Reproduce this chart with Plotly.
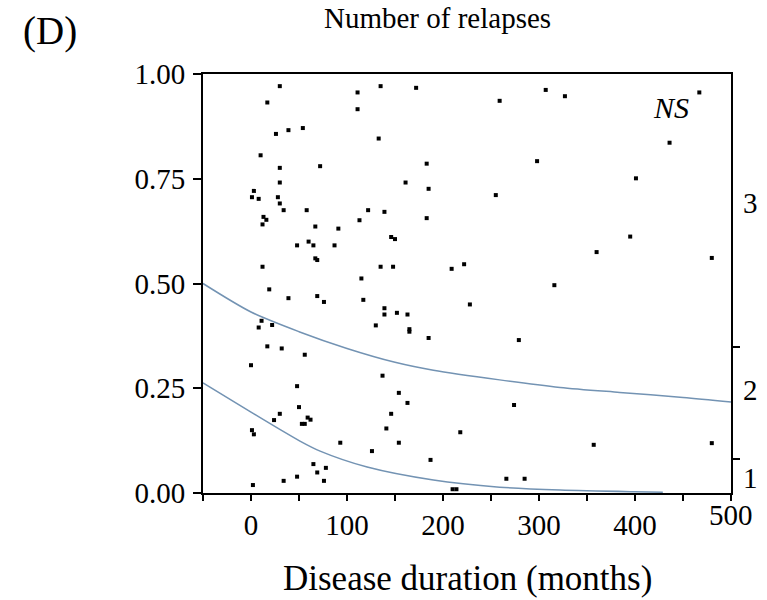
import plotly.graph_objects as go

# Individual patients: disease duration (months) vs. predicted cumulative probability
duration = [30, 17, 26, 39, 54, 10, 30, 30, 3, 1, 8, 28, 30, 34, 58, 13, 16, 12, 67, 48,
            60, 65, 67, 69, 12, 72, 135, 111, 172, 111, 133, 259, 183, 298, 161, 185, 255, 122, 139, 113,
            183, 91, 87, 146, 150, 135, 148, 209, 222, 115, 316, 69, 76, 117, 228, 139, 139, 152, 163, 130,
            165, 165, 185, 279, 56, 137, 154, 163, 274, 146, 141, 218, 50, 59, 62, 53, 56, 93, 154, 126,
            187, 65, 78, 69, 76, 266, 285, 210, 214, 19, 39, 11, 8, 22, 17, 32, 0, 48, 30, 24,
            1, 3, 2, 34, 48, 307, 327, 467, 436, 401, 395, 360, 480, 357, 480]
probability = [0.971, 0.932, 0.857, 0.866, 0.871, 0.806, 0.776, 0.741, 0.721, 0.706, 0.702, 0.706, 0.691, 0.675, 0.675, 0.659, 0.652, 0.641, 0.636, 0.591,
               0.600, 0.591, 0.560, 0.556, 0.540, 0.780, 0.971, 0.956, 0.967, 0.916, 0.846, 0.936, 0.786, 0.792, 0.741, 0.726, 0.711, 0.675, 0.671, 0.651,
               0.656, 0.631, 0.591, 0.611, 0.606, 0.540, 0.540, 0.535, 0.546, 0.512, 0.496, 0.470, 0.456, 0.461, 0.450, 0.441, 0.426, 0.430, 0.426, 0.400,
               0.391, 0.385, 0.370, 0.365, 0.330, 0.280, 0.239, 0.215, 0.210, 0.189, 0.154, 0.145, 0.205, 0.180, 0.175, 0.165, 0.165, 0.120, 0.120, 0.100,
               0.079, 0.069, 0.060, 0.049, 0.029, 0.034, 0.034, 0.009, 0.009, 0.486, 0.465, 0.411, 0.395, 0.401, 0.350, 0.345, 0.305, 0.255, 0.189, 0.174,
               0.150, 0.140, 0.019, 0.029, 0.039, 0.962, 0.947, 0.956, 0.836, 0.751, 0.612, 0.575, 0.561, 0.115, 0.119]

# Fitted cumulative-probability boundaries between relapse categories
upper_x = [-50, 0, 50, 100, 150, 190, 259, 322, 384, 450, 500]
upper_y = [0.500, 0.432, 0.385, 0.345, 0.312, 0.293, 0.270, 0.252, 0.240, 0.228, 0.217]
lower_x = [-50, 0, 30, 51, 72, 121, 190, 259, 322, 400, 429]
lower_y = [0.263, 0.193, 0.152, 0.124, 0.100, 0.062, 0.031, 0.014, 0.007, 0.003, 0.002]

# Axis ticks
x_tickvals = [-50, 0, 50, 100, 150, 200, 250, 300, 350, 400, 450, 500]
x_ticktext = ["", "0", "", "100", "", "200", "", "300", "", "400", "", ""]
y_tickvals = [0, 0.25, 0.5, 0.75, 1.0]
y_ticktext = ["0.00", "0.25", "0.50", "0.75", "1.00"]

# Right-hand category scale
category_bounds = [0.081, 0.348]
category_labels = ["1", "2", "3"]
category_pos = [0.036, 0.246, 0.692]

SERIF = "Liberation Serif, Times New Roman, serif"
CURVE = "#7393b3"

fig = go.Figure()
fig.add_trace(go.Scatter(x=upper_x, y=upper_y, mode="lines",
                         line=dict(color=CURVE, width=1.5, shape="spline", smoothing=0.8),
                         hoverinfo="skip"))
fig.add_trace(go.Scatter(x=lower_x, y=lower_y, mode="lines",
                         line=dict(color=CURVE, width=1.5, shape="spline", smoothing=0.8),
                         hoverinfo="skip"))
fig.add_trace(go.Scatter(x=duration, y=probability, mode="markers",
                         marker=dict(symbol="square", size=4, color="black",
                                     line=dict(width=0))))
# invisible trace to carry the right-hand axis
fig.add_trace(go.Scatter(x=[None], y=[None], yaxis="y2", showlegend=False))

axis_common = dict(showgrid=False, zeroline=False, showline=True, linecolor="black",
                   linewidth=2, ticks="outside", tickcolor="black", tickwidth=1.5)

fig.update_layout(
    width=767, height=600,
    margin=dict(l=203, r=36, t=74, b=107),
    paper_bgcolor="white", plot_bgcolor="white",
    showlegend=False,
    font=dict(family=SERIF, color="black", size=29),
    xaxis=dict(range=[-50, 500], tickmode="array", tickvals=x_tickvals, ticktext=x_ticktext,
               ticklen=6, mirror=True, ticklabelstandoff=-1, **axis_common),
    yaxis=dict(range=[0, 1], tickmode="array", tickvals=y_tickvals, ticktext=y_ticktext,
               ticklen=8, mirror=True, ticklabelstandoff=2, **axis_common),
    yaxis2=dict(range=[0, 1], overlaying="y", side="right", anchor="x",
                tickmode="array", tickvals=category_bounds, showticklabels=False,
                ticks="outside", ticklen=8, tickwidth=1.5, tickcolor="black",
                showgrid=False, zeroline=False, showline=False),
)

annotations = [
    dict(text="(D)", xref="paper", yref="paper", x=-0.289, y=1, yshift=43,
         xanchor="center", yanchor="middle", showarrow=False, font=dict(size=39)),
    dict(text="Number of relapses", xref="paper", yref="paper", x=0.445, y=1, yshift=56,
         xanchor="center", yanchor="middle", showarrow=False, font=dict(size=29)),
    dict(text="Disease duration (months)", xref="paper", yref="paper", x=0.5, y=0, yshift=-85,
         xanchor="center", yanchor="middle", showarrow=False, font=dict(size=35)),
    dict(text="<i>NS</i>", xref="x", yref="y", x=437, y=0.92,
         xanchor="center", yanchor="middle", showarrow=False, font=dict(size=30)),
    dict(text="500", xref="x", yref="y", x=500, y=0, yshift=-4,
         xanchor="center", yanchor="top", showarrow=False, font=dict(size=29)),
]
for lab, pos in zip(category_labels, category_pos):
    annotations.append(dict(text=lab, xref="paper", yref="y", x=1, y=pos, xshift=19,
                            xanchor="center", yanchor="middle", showarrow=False,
                            font=dict(size=29)))
fig.update_layout(annotations=annotations)

fig.write_html("out.html")
